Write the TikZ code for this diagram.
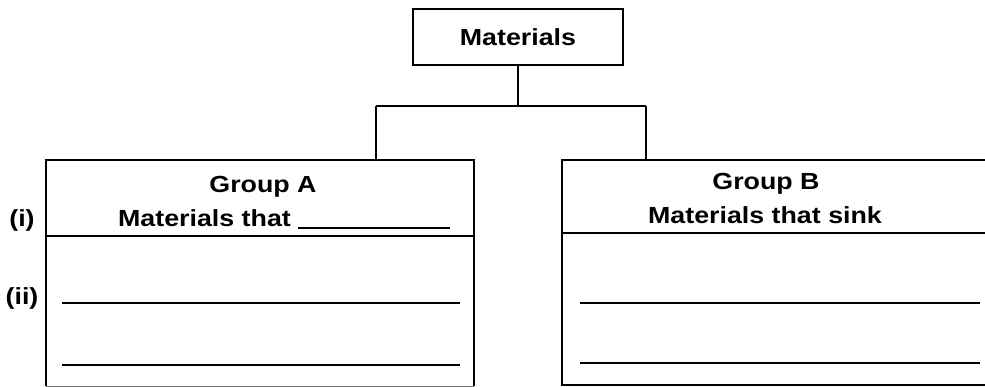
\documentclass[tikz,border=0pt]{standalone}
\usepackage{fontspec}
\setmainfont{Liberation Sans}[FakeStretch=1.15]
\begin{document}
\begin{tikzpicture}[x=1pt,y=-1pt,line width=2.3pt,
  lbl/.style={font=\fontsize{23.3}{26}\selectfont\bfseries, inner sep=0pt},
  box/.style={draw, line width=2.3pt, inner sep=0pt},
  wline/.style={line width=2.8pt},
  blank/.style={line width=1.8pt}]
\useasboundingbox (0,0) rectangle (985,386);
% top box
\node[box, lbl, minimum width=210pt, minimum height=56pt] (mat) at (518,37) {Materials};
% group boxes (shape only)
\node[inner sep=0pt, minimum width=426pt, minimum height=224pt] (gA) at (260,273) {};
\node[inner sep=0pt, minimum width=423pt, minimum height=223pt] (gB) at (774.5,272.5) {};
\draw[line width=2.3pt] (gA.south west) -- (gA.north west) -- (gA.north east) -- (gA.south east);
\draw[line width=1pt, black!55] (gA.south west) -- (gA.south east);
\draw[line width=2.3pt] (gB.south east) -- (gB.south west) -- (gB.north west) -- (gB.north east) -- (gB.south east);
% connectors
\coordinate (jA) at (376,106);
\coordinate (jB) at (646,106);
\draw (mat.south) -- (mat.south |- jA);
\draw (jA) -- (jB);
\draw (jA) -- (jA |- gA.north);
\draw (jB) -- (jB |- gB.north);
% header dividers
\draw (47,236) -- (473,236);
\draw (563,233) -- (986,233);
% header texts
\node[lbl, anchor=base] (gAt) at (263,192) {Group A};
\node[lbl, anchor=base west] (gAm) at (117,226) {Materials that};
\coordinate (bl1) at (298,228);
\coordinate (bl2) at (450,228);
\draw[blank] (bl1) -- (bl2);
\node[lbl, anchor=base] (gBt) at (766,189) {Group B};
\node[lbl, anchor=base] (gBm) at (765,223) {Materials that sink};
% side labels
\node[lbl, anchor=base] (li) at (22,226) {(i)};
\node[lbl, anchor=base] (lii) at (22,304) {(ii)};
% answer lines
\draw[wline] (62,303) -- (460,303);
\draw[wline] (62,365) -- (460,365);
\draw[wline] (580,303) -- (980,303);
\draw[wline] (580,363) -- (980,363);
\end{tikzpicture}
\end{document}
